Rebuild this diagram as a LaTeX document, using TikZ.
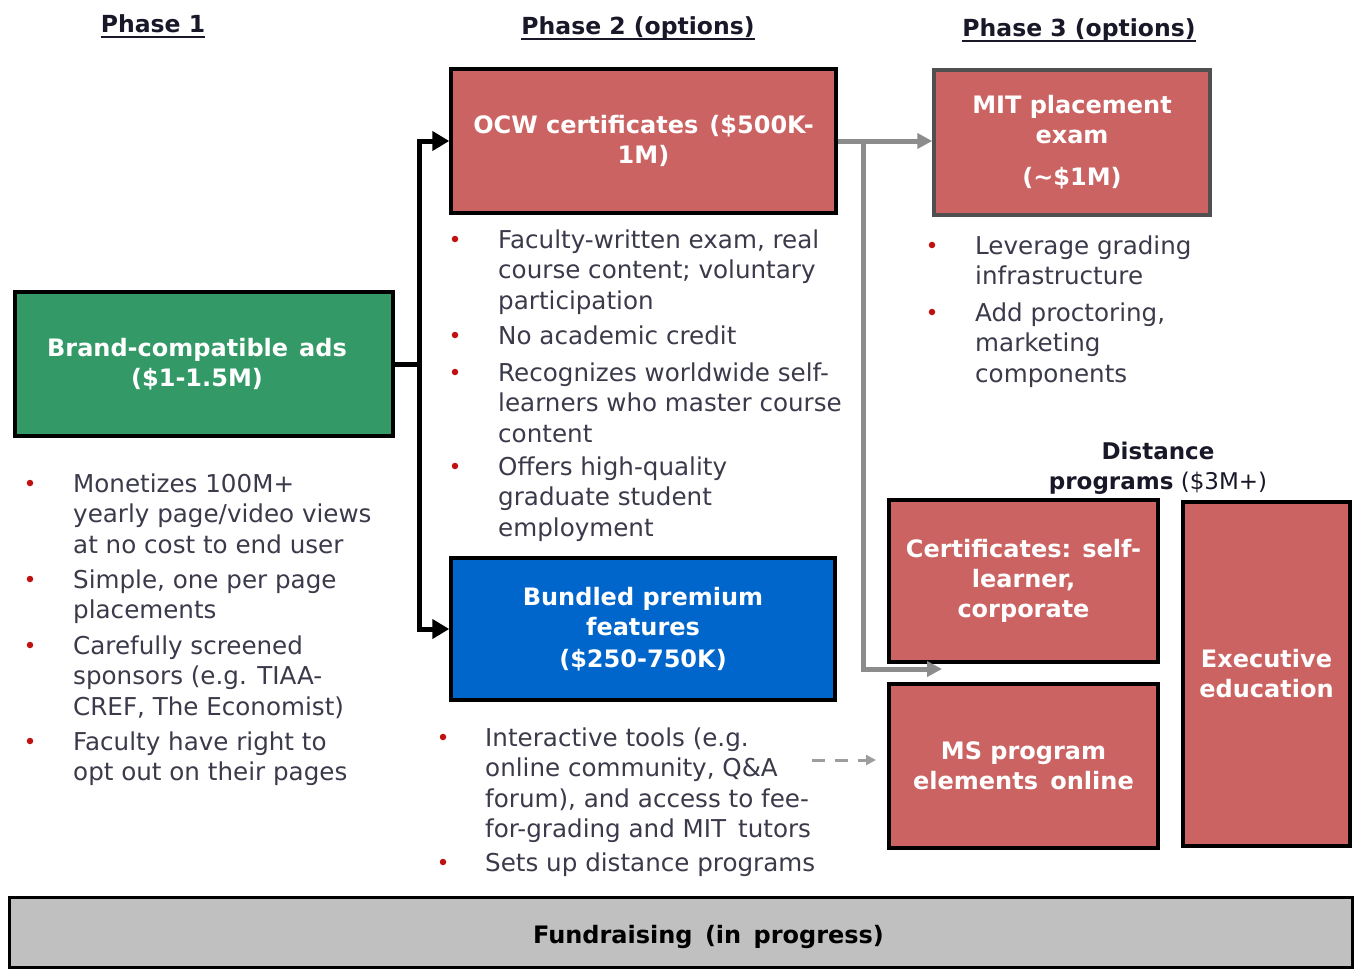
\documentclass[tikz,border=0pt]{standalone}
\usepackage{fontspec}
\setmainfont{DejaVu Sans}
\usetikzlibrary{arrows.meta,calc}

\definecolor{boxred}{RGB}{204,99,99}
\definecolor{boxgreen}{RGB}{51,153,102}
\definecolor{boxblue}{RGB}{0,102,204}
\definecolor{boxgray}{RGB}{192,192,192}
\definecolor{bodytext}{RGB}{58,58,74}
\definecolor{headtext}{RGB}{24,24,40}
\definecolor{bulletred}{RGB}{192,16,16}
\definecolor{linkgray}{RGB}{140,140,140}
\definecolor{framegray}{RGB}{80,80,80}

\tikzset{
  optbox/.style={draw=black, line width=3.5pt, inner sep=0pt, align=center,
    text=white, font=\bfseries\fontsize{24}{30}\selectfont},
  itemtext/.style={anchor=north west, inner sep=0pt, align=left, text=bodytext,
    font=\fontsize{24.6}{30.5}\selectfont},
  bulletdot/.style={circle, fill=bulletred, inner sep=0pt, minimum size=6.5pt},
  phasehead/.style={anchor=base, inner sep=0pt, text=headtext,
    font=\bfseries\fontsize{23.5}{28}\selectfont},
  mainlink/.style={draw=black, line width=5pt},
  sidelink/.style={draw=linkgray, line width=5pt},
}
% zero-width strut so each list item starts 21pt above its first baseline
\newcommand{\firstln}{\rule{0pt}{21pt}}
% the wide gap used between some words in the box titles
\newcommand{\wgap}{\hspace{11pt}}

\begin{document}
\begin{tikzpicture}[x=1pt,y=-1pt]
\useasboundingbox (0,0) rectangle (1356,969);

% column headings
\node[phasehead] (h1) at (153,32) {Phase 1};
\node[phasehead] (h2) at (638,34) {Phase 2 (options)};
\node[phasehead] (h3) at (1079,36) {Phase 3 (options)};
\foreach \h in {h1,h2,h3}
  \draw[headtext, line width=2.5pt] ($(\h.base west)+(0,5)$) -- ($(\h.base east)+(0,5)$);

% option boxes
\node[optbox, fill=boxgreen, minimum width=378pt, minimum height=144pt] (green) at (204,364)
  {\hspace*{-14pt}Brand-compatible\wgap ads\\\hspace*{-14pt}(\$1-1.5M)};
\node[optbox, fill=boxred, minimum width=385pt, minimum height=144pt] (ocw) at (643.5,141)
  {OCW certificates\wgap(\$500K-\\1M)};
\node[optbox, fill=boxred, draw=framegray, minimum width=276pt, minimum height=145pt] (mit) at (1072,142.5)
  {MIT placement\\exam\\[12pt](\textasciitilde\$1M)};
\node[optbox, fill=boxblue, minimum width=384pt, minimum height=142pt] (blue) at (643,629)
  {Bundled premium\\features\\[2pt](\$250-750K)};
\node[optbox, fill=boxred, minimum width=269pt, minimum height=162pt] (cert) at (1023.5,581)
  {Certificates: self-\\learner,\\corporate};
\node[optbox, fill=boxred, minimum width=269pt, minimum height=164pt] (ms) at (1023.5,766)
  {MS program\\elements\, online};
\node[optbox, fill=boxred, minimum width=167pt, minimum height=344pt] (exec) at (1266.5,674)
  {Executive\\education};
\node[optbox, fill=boxgray, text=black, line width=3pt, minimum width=1343pt, minimum height=70pt,
  text height=28.5pt, text depth=6pt] (fund) at (680.5,932)
  {\hspace*{56pt}Fundraising\, (in\, progress)};

% label over the distance programs
\node[anchor=north, inner sep=0pt, align=center, text=headtext,
  font=\fontsize{23}{30}\selectfont] (dist) at (1158,438)
  {\firstln\textbf{Distance}\\\textbf{programs} (\$3M+)};

% phase 1 notes
\node[bulletdot] (p1a) at (30,483) {};
\node[itemtext] (t1a) at (73,471) {\firstln Monetizes 100M+\\yearly page/video views\\at no cost to end user};
\node[bulletdot] (p1b) at (30,579) {};
\node[itemtext] (t1b) at (73,567) {\firstln Simple, one per page\\placements};
\node[bulletdot] (p1c) at (30,645) {};
\node[itemtext] (t1c) at (73,633) {\firstln Carefully screened\\sponsors (e.g. TIAA-\\CREF, The Economist)};
\node[bulletdot] (p1d) at (30,741) {};
\node[itemtext] (t1d) at (73,729) {\firstln Faculty have right to\\opt out on their pages};

% phase 2 notes, certificates
\node[bulletdot] (p2a) at (455,239) {};
\node[itemtext] (t2a) at (498,227) {\firstln Faculty-written exam, real\\course content; voluntary\\participation};
\node[bulletdot] (p2b) at (455,335) {};
\node[itemtext] (t2b) at (498,323) {\firstln No academic credit};
\node[bulletdot] (p2c) at (455,372) {};
\node[itemtext] (t2c) at (498,360) {\firstln Recognizes worldwide self-\\learners who master course\\content};
\node[bulletdot] (p2d) at (455,466) {};
\node[itemtext] (t2d) at (498,454) {\firstln Offers high-quality\\graduate student\\employment};

% phase 2 notes, premium features
\node[bulletdot] (p2e) at (443,737) {};
\node[itemtext] (t2e) at (485,725) {\firstln Interactive tools (e.g.\\online community, Q\&A\\forum), and access to fee-\\for-grading and MIT\, tutors};
\node[bulletdot] (p2f) at (443,862) {};
\node[itemtext] (t2f) at (485,850) {\firstln Sets up distance programs};

% phase 3 notes
\node[bulletdot] (p3a) at (932,245) {};
\node[itemtext] (t3a) at (975,233) {\firstln Leverage grading\\infrastructure};
\node[bulletdot] (p3b) at (932,312) {};
\node[itemtext] (t3b) at (975,300) {\firstln Add proctoring,\\marketing\\components};

% phase 1 to phase 2
\coordinate (j) at ($(green.east)+(25,0)$);
\draw[mainlink] (green.east) -- (j);
\draw[mainlink, -{Triangle[length=17pt,width=19pt]}] (j) |- (ocw.west);
\draw[mainlink, -{Triangle[length=17pt,width=19pt]}] (j) |- (blue.west);

% certificates onward to phase 3
\coordinate (g) at ($(ocw.east)+(26,0)$);
\coordinate (gtip) at (942,669);
\draw[sidelink, -{Triangle[length=15pt,width=15pt]}] (ocw.east) -- (ocw.east -| mit.west);
\draw[sidelink, -{Triangle[length=15pt,width=15pt]}] (g) |- (gtip);

% premium tools feed the distance programs
\coordinate (d0) at (812,760);
\coordinate (d1) at (876,760);
\draw[draw=linkgray!85, line width=3pt, dash pattern=on 13pt off 10pt,
  -{Triangle[length=10pt,width=10pt]}] (d0) -- (d1);
\end{tikzpicture}
\end{document}
